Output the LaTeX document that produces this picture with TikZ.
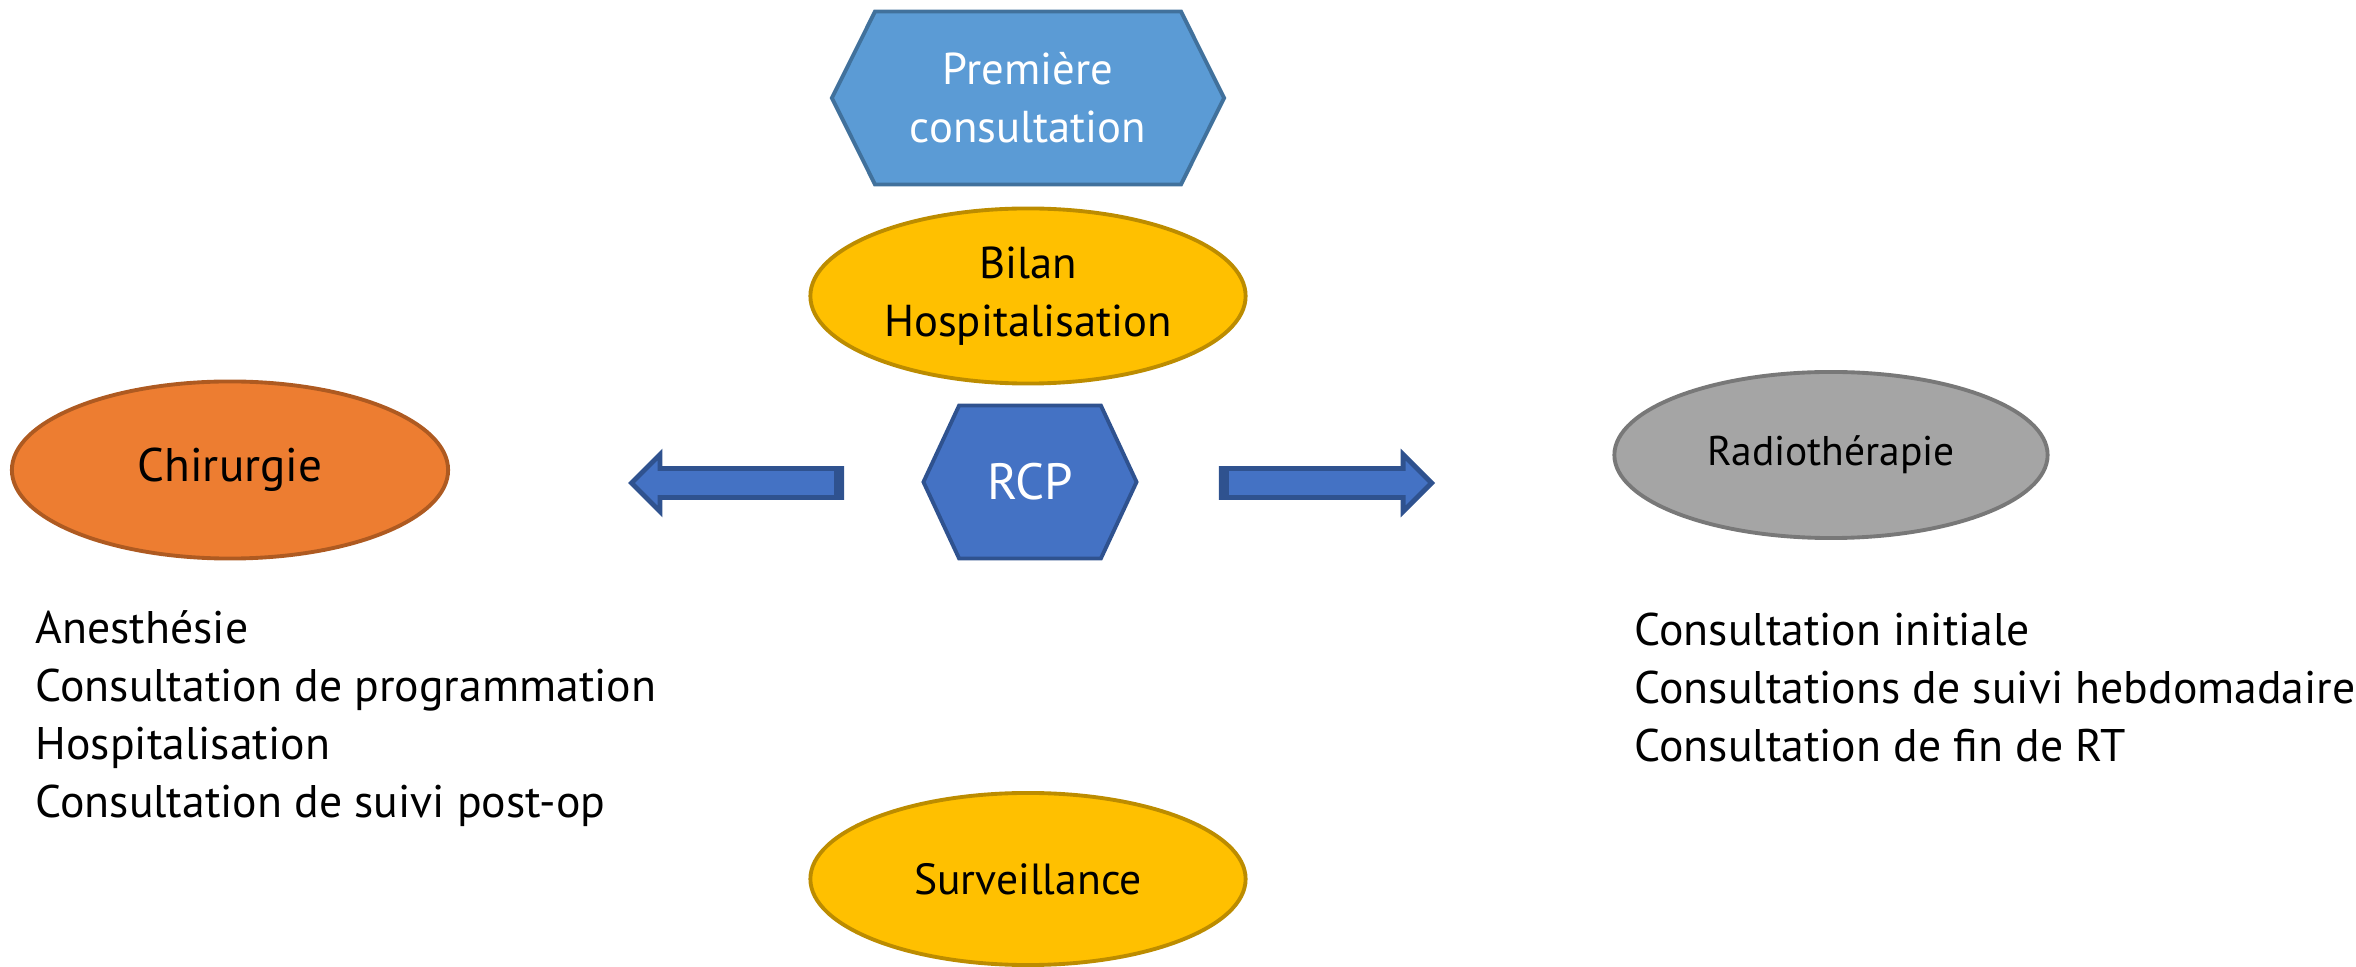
\documentclass[tikz,border=0pt]{standalone}
\usepackage{fontspec}
\setmainfont{PT Sans}
\usepackage{xcolor}
\usepackage{tikz}
\usetikzlibrary{shapes.geometric,shapes.symbols,shapes.arrows}

\definecolor{bleuclair}{HTML}{5B9BD5}
\definecolor{bleuclairbord}{HTML}{41719C}
\definecolor{bleu}{HTML}{4472C4}
\definecolor{bleubord}{HTML}{2F528F}
\definecolor{jaune}{HTML}{FFC000}
\definecolor{jaunebord}{HTML}{BC8C00}
\definecolor{orange}{HTML}{ED7D31}
\definecolor{orangebord}{HTML}{AE5A21}
\definecolor{gris}{HTML}{A5A5A5}
\definecolor{grisbord}{HTML}{787878}

\begin{document}
\begin{tikzpicture}[x=0.01cm,y=-0.01cm]
    \tikzstyle{etape}=[ellipse,draw,line width=1.1pt,inner sep=0pt,align=center,
        font=\fontsize{12.7}{16.5}\selectfont]
    \tikzstyle{hexa}=[signal,signal to=east and west,draw,line width=1.1pt,inner sep=0pt,
        align=center,text=white,font=\fontsize{12.7}{16.5}\selectfont]
    \tikzstyle{fleche}=[single arrow,draw=bleubord,fill=bleu,line width=1.4pt,
        inner sep=0.12cm,minimum width=0pt,minimum height=2.10cm,anchor=tip,
        single arrow head extend=0.14cm,single arrow tip angle=90]
    \tikzstyle{liste}=[align=left,inner sep=0pt,anchor=north west,
        font=\fontsize{13}{16.5}\selectfont]
    \useasboundingbox (0,0) rectangle (2356,967);
\node[hexa,fill=bleuclair,draw=bleuclairbord,minimum width=3.92cm,minimum height=1.73cm,
    signal pointer angle=127] (premiere) at (1028,98) {Première\\consultation};
\node[etape,fill=jaune,draw=jaunebord,minimum width=4.35cm,minimum height=1.75cm]
    (bilan) at (1028,296) {Bilan\\Hospitalisation};
\node[hexa,fill=bleu,draw=bleubord,minimum width=2.13cm,minimum height=1.53cm,
    signal pointer angle=130,font=\fontsize{14.5}{17}\selectfont] (rcp) at (1030,482) {RCP};
% fleches vers les traitements
\node[fleche,shape border rotate=180] (versChir) at (628,483) {};
\node[fleche] (versRadio) at (1435,483) {};
\fill[bleubord] (versChir.before tail) rectangle ([xshift=-0.1cm]versChir.after tail);
\fill[bleubord] (versRadio.before tail) rectangle ([xshift=0.1cm]versRadio.after tail);
\node[etape,fill=orange,draw=orangebord,minimum width=4.36cm,minimum height=1.77cm,
    font=\fontsize{13.4}{16}\selectfont] (chir) at (230,470) {Chirurgie};
\node[etape,fill=gris,draw=grisbord,minimum width=4.33cm,minimum height=1.66cm,
    font=\fontsize{11.8}{14}\selectfont] (radio) at (1831,455) {Radiothérapie};
\node[etape,fill=jaune,draw=jaunebord,minimum width=4.35cm,minimum height=1.72cm,
    font=\fontsize{12.4}{16}\selectfont] (surv) at (1028,879) {Surveillance};
\node[liste] (chirListe) at (35,610) {Anesthésie\\Consultation de programmation\\Hospitalisation\\Consultation de suivi post-op};
\node[liste] (radioListe) at (1634,612) {Consultation initiale\\Consultations de suivi hebdomadaire\\Consultation de fin de RT};
\end{tikzpicture}
\end{document}
